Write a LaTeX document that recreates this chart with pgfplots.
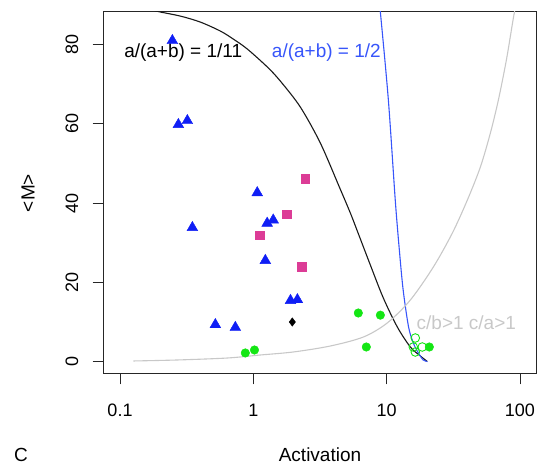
\documentclass[border=0pt]{standalone}
\usepackage{fontspec}
\setmainfont{Liberation Sans}
\usepackage{pgfplots}
\pgfplotsset{compat=1.18}
\definecolor{tri}{RGB}{15,30,245}
\definecolor{pinksq}{RGB}{220,60,150}
\definecolor{grn}{RGB}{20,230,20}
\definecolor{bline}{RGB}{55,85,250}
\definecolor{gline}{RGB}{200,200,200}
\begin{document}
\fontsize{19}{22}\selectfont
\begin{tikzpicture}[x=1pt,y=1pt]
\path[use as bounding box] (0,0) rectangle (540,465);
\begin{axis}[
  at={(103.5pt,91.7pt)}, anchor=south west,
  width=432.5pt, height=361.6pt, scale only axis,
  xmode=log, xmin=0.0752, xmax=131.9, ymin=-2.98, ymax=88.3,
  axis line style={line width=0.8pt, color=black!85},
  xtick={0.1,1,10,100}, xticklabels={0.1,1,10,100},
  ytick={0,20,40,60,80},
  xminorticks=false, yminorticks=false,
  tick align=outside, major tick length=11pt,
  tick style={line width=0.8pt, color=black!85},
  xtick pos=lower, ytick pos=left,
  xticklabel style={anchor=center, yshift=-26pt, font=\fontsize{18}{21}\selectfont},
  yticklabel style={rotate=90, anchor=center, yshift=20.5pt, font=\fontsize{18}{21}\selectfont},
  /pgf/number format/assume math mode=true,
  clip=true,
]
% curves
\addplot[black!90, line width=1.1pt, smooth] coordinates {
 (0.1688,88.96) (0.1938,88.33) (0.2834,87.19) (0.4003,85.68) (0.5658,83.41) (0.7079,81.39)
 (0.9016,78.87) (1.274,74.33) (1.594,70.79) (2.252,64.23) (3.182,55.14) (4.418,44.04)
 (5.342,37.48) (6.026,32.93) (7.547,24.35) (9.441,16.03) (12.02,8.71) (15.06,3.66)
 (17.90,1.39) (20.18,0)
};
\addplot[bline, line width=1.1pt, smooth] coordinates {
 (8.81,89.97) (8.97,88.2) (10.3,66.0) (11.6,40.76) (12.45,28.15) (13.3,18.04)
 (14.6,8.71) (15.85,4.67) (17.3,2.15) (18.8,0.38) (20.2,0)
};
\addplot[gline, line width=1.1pt, smooth] coordinates {
 (0.126,0.13) (0.269,0.38) (0.638,0.88) (1.128,1.64) (1.995,2.40) (3.78,3.91)
 (6.69,6.18) (10.1,9.72) (15.06,15.52) (22.40,23.85) (31.11,32.43) (40.31,40.76)
 (50.46,49.09) (59.97,57.66) (68.86,66.0) (79.07,76.09) (89.2,86.69) (93.9,90.47)
};
% blue triangles
\addplot[only marks, mark=triangle*, mark size=6.2pt, color=tri] coordinates {
 (0.247,81.0) (0.274,59.8) (0.320,60.8) (0.349,33.8) (1.07,42.6) (1.27,34.9)
 (1.41,35.7) (1.23,25.5) (1.90,15.4) (2.14,15.6) (0.519,9.3) (0.733,8.6)
};
% pink squares
\addplot[only marks, mark=square*, mark size=4.4pt, color=pinksq] coordinates {
 (2.45,46.06) (1.77,37.2) (1.11,31.9) (2.29,23.85)
};
% black diamond
\addplot[only marks, mark=diamond*, mark size=4.2pt, color=black] coordinates {
 (1.96,9.97)
};
% green filled circles
\addplot[only marks, mark=*, mark size=4.3pt, color=grn] coordinates {
 (0.871,2.15) (1.02,2.9) (6.13,12.24) (8.97,11.7) (7.04,3.66) (20.9,3.66)
};
% green open circles
\addplot[only marks, mark=o, mark size=4.3pt, color=grn, mark options={line width=0.9pt}] coordinates {
 (16.4,5.93) (15.85,3.66) (16.4,2.4) (18.5,3.66)
};
\node[inner sep=0pt, anchor=center, text=black] at (axis cs:0.298,78.1) {a/(a+b) = 1/11};
\node[inner sep=0pt, anchor=center, text=bline] at (axis cs:3.53,78.1) {a/(a+b) = 1/2};
\node[inner sep=0pt, anchor=center, text=gline] at (axis cs:39.6,9.7) {c/b>1 c/a>1};
\end{axis}
\node[anchor=center, inner sep=0pt] at (320,10) {Activation};
\node[anchor=center, inner sep=0pt, rotate=90] at (28,272) {<M>};
\node[anchor=center, inner sep=0pt] at (21,10) {C};
\end{tikzpicture}
\end{document}
